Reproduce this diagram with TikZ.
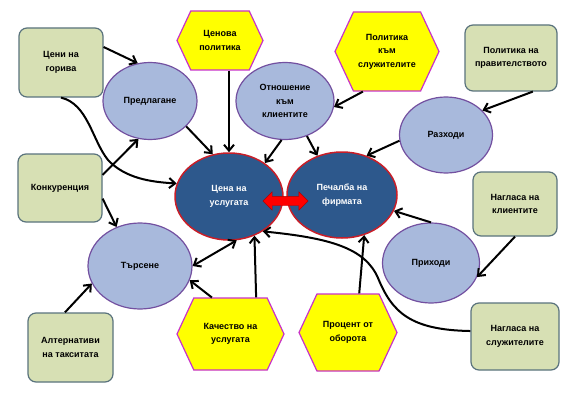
\documentclass[tikz,border=0pt]{standalone}
\usepackage{fontspec}
\setmainfont{Liberation Sans}
\usetikzlibrary{positioning,shapes.symbols,shapes.geometric,shapes.arrows,arrows.meta}

\definecolor{boxgreen}{RGB}{215,224,180}
\definecolor{boxedge}{RGB}{90,115,125}
\definecolor{hexyellow}{RGB}{255,255,0}
\definecolor{hexedge}{RGB}{200,50,200}
\definecolor{ovalblue}{RGB}{168,185,220}
\definecolor{ovaledge}{RGB}{115,80,160}
\definecolor{coreblue}{RGB}{45,88,140}
\definecolor{coreedge}{RGB}{200,30,40}

\begin{document}
\begin{tikzpicture}
    [x=1pt,y=-1pt,%%%%%%%%%%%%%%%%%%%%%%%%%%%%%%
    txt/.style={align=center,font=\bfseries\fontsize{9}{13.5}\selectfont},
    factor/.style={txt,rectangle,rounded corners=8pt,draw=boxedge,fill=boxgreen,line width=1.2pt},
    hexa/.style={txt,signal,signal to=west and east,signal pointer angle=130,draw=hexedge,fill=hexyellow,line width=1.2pt,inner sep=0pt},
    oval/.style={txt,ellipse,draw=ovaledge,fill=ovalblue,line width=1.2pt,inner sep=0pt},
    core/.style={txt,ellipse,draw=coreedge,fill=coreblue,text=white,line width=1.5pt,inner sep=0pt},
    arr/.style={-{Straight Barb[length=6pt,width=10pt]},line width=2pt},
    arrboth/.style={{Straight Barb[length=6pt,width=10pt]}-{Straight Barb[length=6pt,width=10pt]},line width=2pt},
    ]%%%%%%%%%%%%%%%%%%%%%%%%%%%%%%

    \fill[white] (0,0) rectangle (577,409);
    \useasboundingbox (0,0) rectangle (577,409);

    % factors
    \node[factor,minimum width=84,minimum height=69] at (61,62.5) (gorivo) {Цени на\\горива};
    \node[factor,minimum width=84,minimum height=68] at (60,188) (konk) {Конкуренция};
    \node[factor,minimum width=85,minimum height=69] at (70.5,347.5) (alt) {Алтернативи\\на такситата};
    \node[factor,minimum width=92,minimum height=66] at (511,58) (prav) {Политика на\\правителството};
    \node[factor,minimum width=84,minimum height=64] at (515,204) (naglkl) {Нагласа на\\клиентите};
    \node[factor,minimum width=88,minimum height=67] at (515,336.5) (naglsl) {Нагласа на\\служителите};

    % policies
    \node[hexa,minimum width=86,minimum height=59] at (220,40.5) (cenpol) {Ценова\\политика};
    \node[hexa,minimum width=104,minimum height=79] at (387,51.5) (polsl) {Политика\\към\\служителите};
    \node[hexa,minimum width=107,minimum height=72] at (230.5,334) (kach) {Качество на\\услугата};
    \node[hexa,minimum width=98,minimum height=77] at (348,332.5) (proc) {Процент от\\оборота};

    % ovals
    \node[oval,minimum width=94,minimum height=77] at (150,101) (predl) {Предлагане};
    \node[oval,minimum width=98,minimum height=77] at (285,101) (otn) {Отношение\\към\\клиентите};
    \node[oval,minimum width=93,minimum height=76] at (446,135) (razh) {Разходи};
    \node[oval,minimum width=104,minimum height=86] at (140,266) (tars) {Търсене};
    \node[oval,minimum width=97,minimum height=80] at (431,263) (prih) {Приходи};

    % core
    \node[core,minimum width=108,minimum height=87] at (229,196.5) (cena) {Цена на\\услугата};
    \node[core,minimum width=110,minimum height=86] at (342,195) (pech) {Печалба на\\фирмата};
    \node[double arrow,fill=red,draw=red!70!black,minimum height=45,minimum width=18,
          double arrow head extend=4.5pt,inner sep=4.5pt] at (285.5,201) (swap) {};

    % arrows
    \draw[arr] (gorivo.20) -- (predl.108);
    \draw[arr] (gorivo.south) .. controls (88,104) and (92,140) .. (108,160)
                              .. controls (125,178) and (150,182) .. (cena.166);
    \draw[arr] (konk.17) -- (predl.253);
    \draw[arr] (konk.346) -- (tars.121);
    \draw[arr] (alt.99) -- (tars.200);
    \draw[arr] (predl.325) -- (cena.111);
    \draw[arr] (cenpol.south -| cena.north) -- (cena.north);
    \draw[arr] (otn.265) -- (cena.43);
    \draw[arr] (otn.302) -- (pech.122);
    \draw[arr] (polsl.239) -- (otn.353);
    \draw[arr] (prav.303) -- (razh.34);
    \draw[arr] (razh.187) -- (pech.58);
    \draw[arr] (naglkl.south) -- (prih.343);
    \draw[arr] (prih.north) -- (pech.343);
    \draw[arr] (proc.74) -- (pech.299);
    \draw[arr] (kach.55) -- (cena.303);
    \draw[arr] (kach.117) -- (tars.344);
    \draw[arrboth] (tars.east) -- (cena.280);
    \draw[arr] (naglsl.173) .. controls (410,330) and (392,312) .. (378,278)
                            .. controls (365,248) and (330,238) .. (cena.314);
\end{tikzpicture}
\end{document}
